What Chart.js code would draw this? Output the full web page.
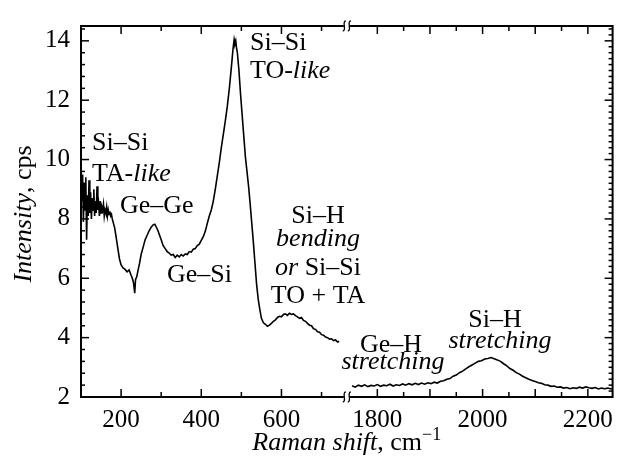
<!DOCTYPE html>
<html>
<head>
<meta charset="utf-8">
<script src="https://cdn.jsdelivr.net/npm/chart.js@4.4.1/dist/chart.umd.min.js"></script>
<style>
  html, body { margin:0; padding:0; background:#fff; }
  #wrap { width:621px; height:459px; }
</style>
</head>
<body>
<div id="wrap"><canvas id="c" width="621" height="459"></canvas></div>
<script>
// Raman spectrum, two pieces of the x axis (low and high wavenumber)
const xLeft = [102,104,106,108,110,112,114,116,118,120,122,124,126,128,130,132,134,136,138,140,
  142,144,146,148,150,152,154,156,158,160,162,164,166,168,170,172,174,176,178,180,
  184,188,192,196,200,205,210,215,220,225,228,231,234,236,239,242,246,250,255,260,
  265,270,275,280,284,288,292,296,300,305,310,315,320,325,330,335,340,345,350,355,
  360,365,370,375,380,385,390,395,400,405,410,415,420,425,430,435,440,445,450,455,
  460,465,470,475,479,482,484,486,488,490,494,498,502,506,510,514,518,522,526,530,
  534,538,542,546,550,555,560,565,570,575,580,585,590,595,600,605,610,615,620,625,
  630,635,640,645,650,655,660,665,670,675,680,685,690,695,700,705,710,715,720,725,
  730,735,740,744];
const yLeft = [8.6,9.5,7.9,9.2,8.3,9.4,7.3,8.8,8.1,9.3,8.2,8.9,8.0,8.7,8.3,9.0,8.1,8.6,8.2,9.1,
  8.3,8.5,8.1,8.6,8.2,8.4,8.3,8.5,8.1,8.3,8.2,8.4,8.1,8.3,8.15,8.25,8.1,8.15,8.0,7.9,
  7.7,7.35,7.0,6.65,6.45,6.35,6.3,6.22,6.28,6.1,6.0,5.85,5.5,5.95,6.05,6.25,6.5,6.8,7.05,7.3,
  7.45,7.6,7.72,7.8,7.82,7.72,7.6,7.45,7.3,7.1,7.0,6.9,6.85,6.78,6.8,6.7,6.78,6.72,6.8,6.75,
  6.82,6.8,6.9,6.88,6.98,7.0,7.1,7.15,7.28,7.4,7.58,7.85,8.1,8.3,8.6,9.0,9.45,9.9,10.4,10.85,
  11.3,11.8,12.4,13.1,13.7,14.05,13.9,14.0,13.75,13.6,13.0,12.2,11.5,10.8,10.1,9.6,9.1,8.5,7.85,7.2,
  6.5,5.8,5.3,4.95,4.65,4.5,4.45,4.38,4.42,4.48,4.55,4.6,4.68,4.72,4.7,4.78,4.8,4.75,4.82,4.78,
  4.8,4.74,4.7,4.65,4.68,4.58,4.55,4.48,4.42,4.4,4.3,4.28,4.2,4.18,4.1,4.08,4.02,4.0,3.95,3.96,
  3.9,3.92,3.85,3.88];

const xRight = [1752,1758,1764,1770,1776,1782,1788,1794,1800,1806,1812,1818,1824,1830,1836,1842,1848,1854,1860,1866,
  1872,1878,1884,1890,1896,1902,1908,1914,1920,1926,1932,1938,1944,1950,1956,1962,1968,1974,1980,1986,
  1992,1998,2004,2010,2016,2022,2028,2034,2040,2046,2052,2058,2064,2070,2076,2082,2088,2094,2100,2106,
  2112,2118,2124,2130,2136,2142,2148,2154,2160,2166,2172,2178,2184,2190,2196,2202,2208,2214,2220,2226,
  2232,2238,2244,2247];
const yRight = [2.38,2.33,2.4,2.36,2.41,2.35,2.39,2.37,2.42,2.36,2.4,2.38,2.43,2.37,2.41,2.39,2.44,2.4,2.45,2.41,
  2.46,2.42,2.47,2.43,2.48,2.45,2.5,2.47,2.53,2.55,2.6,2.62,2.7,2.74,2.82,2.87,2.95,3.02,3.08,3.14,
  3.2,3.22,3.28,3.3,3.33,3.29,3.25,3.2,3.12,3.05,2.96,2.9,2.82,2.77,2.7,2.65,2.6,2.56,2.52,2.48,
  2.46,2.41,2.4,2.36,2.37,2.33,2.34,2.3,2.32,2.28,2.31,2.29,2.33,2.3,2.34,2.31,2.29,2.32,2.27,2.3,
  2.28,2.3,2.27,2.29];

// axis pieces and ticks
const segLeft = [100, 763];
const segRight = [1742, 2247];
const xTickLabels = [200, 400, 600, 1800, 2000, 2200];
const xMajor = [200, 400, 600, 1800, 1900, 2000, 2100, 2200];
const xMinor = [300, 500, 700, 1850, 1950, 2050, 2150];
const yTickLabels = [2, 4, 6, 8, 10, 12, 14];

const FONT = "'Liberation Serif', 'Times New Roman', serif";

// linear scale with a gap between segLeft and segRight, each piece gets half the width
class BrokenScale extends Chart.LinearScale {
  buildTicks() {
    this.start = this.min; this.end = this.max;
    return xTickLabels.map(v => ({ value: v }));
  }
  _frac(v) {
    const mid = (segLeft[1] + segRight[0]) / 2;
    if (v <= mid) return (v - segLeft[0]) / (segLeft[1] - segLeft[0]) * 0.5;
    return 0.5 + (v - segRight[0]) / (segRight[1] - segRight[0]) * 0.5;
  }
  getPixelForValue(v) { return this.left + this._frac(v) * this.width; }
  getValueForPixel(p) {
    const f = (p - this.left) / this.width;
    if (f <= 0.5) return segLeft[0] + f * 2 * (segLeft[1] - segLeft[0]);
    return segRight[0] + (f - 0.5) * 2 * (segRight[1] - segRight[0]);
  }
}
BrokenScale.id = 'broken';
BrokenScale.defaults = {};
Chart.register(BrokenScale);

function drawParts(ctx, parts, x, y, align, size) {
  const fontOf = p => (p[1] === 'i' ? 'italic ' : '') + (p[1] === 's' ? Math.round(size*0.7) : size) + 'px ' + FONT;
  let total = 0;
  parts.forEach(p => { ctx.font = fontOf(p); total += ctx.measureText(p[0]).width; });
  let cx = align === 'center' ? x - total / 2 : x;
  ctx.textAlign = 'left';
  ctx.textBaseline = 'alphabetic';
  parts.forEach(p => {
    ctx.font = fontOf(p);
    ctx.fillText(p[0], cx, p[1] === 's' ? y - size * 0.38 : y);
    cx += ctx.measureText(p[0]).width;
  });
}

const notes = [
  { t: [['Si–Si']], x: 92, y: 150 },
  { t: [['TA-'], ['like', 'i']], x: 92, y: 181 },
  { t: [['Ge–Ge']], x: 120, y: 213 },
  { t: [['Ge–Si']], x: 167, y: 282 },
  { t: [['Si–Si']], x: 250, y: 50 },
  { t: [['TO-'], ['like', 'i']], x: 250, y: 78 },
  { t: [['Si–H']], x: 318, y: 223, c: 1 },
  { t: [['bending', 'i']], x: 318, y: 246, c: 1 },
  { t: [['or', 'i'], [' Si–Si']], x: 318, y: 275, c: 1 },
  { t: [['TO + TA']], x: 318, y: 303, c: 1 },
  { t: [['Ge–H']], x: 391, y: 352, c: 1 },
  { t: [['stretching', 'i']], x: 393, y: 369, c: 1 },
  { t: [['Si–H']], x: 495, y: 327, c: 1 },
  { t: [['stretching', 'i']], x: 500, y: 348, c: 1 }
];

const framePlugin = {
  id: 'frame',
  afterDraw(chart) {
    const { ctx, chartArea: a, scales: { x, y } } = chart;
    const line = (x1, y1, x2, y2) => { ctx.beginPath(); ctx.moveTo(x1, y1); ctx.lineTo(x2, y2); ctx.stroke(); };
    ctx.save();
    ctx.strokeStyle = '#000';
    ctx.fillStyle = '#000';
    ctx.lineWidth = 2;
    ctx.strokeRect(a.left, a.top, a.right - a.left, a.bottom - a.top);

    ctx.lineWidth = 1.5;
    xMajor.forEach(v => { const p = x.getPixelForValue(v); line(p, a.bottom, p, a.bottom - 8); line(p, a.top, p, a.top + 8); });
    xMinor.forEach(v => { const p = x.getPixelForValue(v); line(p, a.bottom, p, a.bottom - 5); line(p, a.top, p, a.top + 5); });
    for (let k = 0; k <= 31; k++) {
      const v = 2 + k * 0.4, p = y.getPixelForValue(v);
      if (p < a.top) break;
      const big = Math.abs(v / 2 - Math.round(v / 2)) < 1e-6;
      line(a.left, p, a.left + (big ? 8 : 4), p);
    }
    for (let k = 0; k <= 62; k++) {
      const v = 2 + k * 0.2, p = y.getPixelForValue(v);
      if (p < a.top) break;
      const big = Math.abs(v / 2 - Math.round(v / 2)) < 1e-6;
      line(a.right, p, a.right - (big ? 8 : 4), p);
    }

    // axis break marks, at the join of the two halves
    const bx = (a.left + a.right) / 2;
    [a.top, a.bottom].forEach(by => {
      ctx.fillStyle = '#fff';
      ctx.fillRect(bx - 3, by - 2, 6, 4);
      ctx.lineWidth = 1.3;
      [-2.5, 2.5].forEach(dx => {
        const cx = bx + dx;
        ctx.beginPath();
        ctx.moveTo(cx + 1.5, by - 5);
        ctx.bezierCurveTo(cx - 2.5, by - 5, cx + 2.5, by + 5, cx - 1.5, by + 5);
        ctx.stroke();
      });
    });

    ctx.fillStyle = '#000';
    notes.forEach(n => drawParts(ctx, n.t, n.x, n.y, n.c ? 'center' : 'left', 26));

    drawParts(ctx, [['Raman shift', 'i'], [', cm'], ['−1', 's']], (a.left + a.right) / 2, 450, 'center', 26);
    ctx.translate(31, 214);
    ctx.rotate(-Math.PI / 2);
    drawParts(ctx, [['Intensity', 'i'], [', cps']], 0, 0, 'center', 26);
    ctx.restore();
  }
};

new Chart(document.getElementById('c'), {
  type: 'line',
  data: {
    datasets: [
      { data: xLeft.map((v, i) => ({ x: v, y: yLeft[i] })) },
      { data: xRight.map((v, i) => ({ x: v, y: yRight[i] })) }
    ]
  },
  options: {
    responsive: false,
    animation: false,
    layout: { padding: { top: 16, right: 3, left: 0, bottom: 0 } },
    elements: {
      line: { borderColor: '#000', borderWidth: 1.6, tension: 0 },
      point: { radius: 0 }
    },
    plugins: { legend: { display: false }, tooltip: { enabled: false } },
    scales: {
      x: {
        type: 'broken',
        min: segLeft[0], max: segRight[1],
        grid: { display: false, drawTicks: false }, border: { display: false },
        ticks: { autoSkip: false, maxRotation: 0, padding: 8, color: '#000',
          font: { family: FONT, size: 25 }, callback: v => String(v) },
        afterFit: s => { s.height = 62; }
      },
      y: {
        min: 2, max: 14.5,
        grid: { display: false, drawTicks: false }, border: { display: false },
        afterBuildTicks: s => { s.ticks = yTickLabels.map(v => ({ value: v })); },
        ticks: { padding: 11, color: '#000', font: { family: FONT, size: 25 }, callback: v => String(v) },
        afterFit: s => { s.width = 81; }
      }
    }
  },
  plugins: [framePlugin]
});
</script>
</body>
</html>
